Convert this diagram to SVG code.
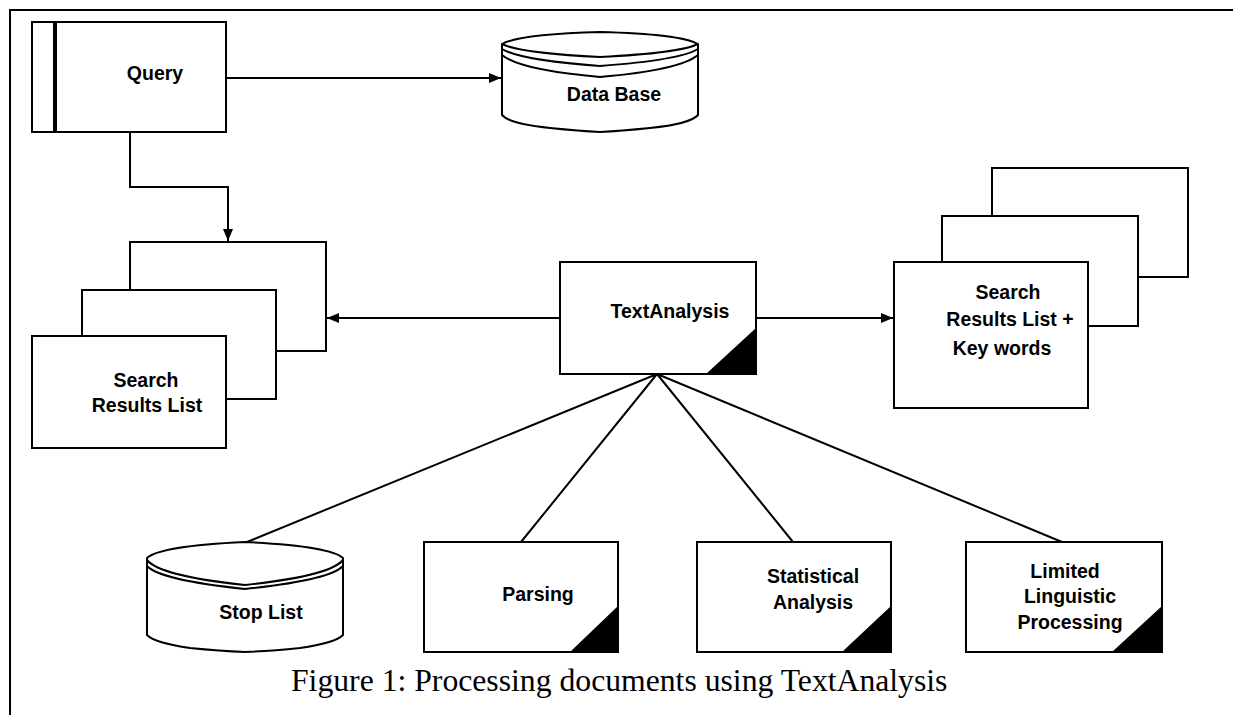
<svg xmlns="http://www.w3.org/2000/svg" width="1233" height="715" viewBox="0 0 1233 715">
<defs>
<style>
.b{fill:#fff;stroke:#000;stroke-width:2}
.l{fill:none;stroke:#000;stroke-width:2}
.t{font-family:"Liberation Sans",Arial,sans-serif;font-weight:bold;font-size:19.5px;text-anchor:middle;fill:#000}
.cap{font-family:"Liberation Serif","Times New Roman",serif;font-size:31.7px;fill:#000}
.tri{fill:#000}
</style>
<marker id="ah" viewBox="0 0 12 10" refX="12" refY="5" markerWidth="12" markerHeight="10" markerUnits="userSpaceOnUse" orient="auto">
<path d="M0,0 L12,5 L0,10 Z" fill="#000"/>
</marker>
</defs>
<rect width="1233" height="715" fill="#fff"/>
<path class="l" d="M10,715 V10 H1233"/>

<g id="connectors">
<path class="l" d="M226,78 H501" marker-end="url(#ah)"/>
<path class="l" d="M130,132 V187 H228 V241" marker-end="url(#ah)"/>
<path class="l" d="M560,318 H327" marker-end="url(#ah)"/>
<path class="l" d="M756,318 H893" marker-end="url(#ah)"/>
<path class="l" d="M657,374 L247,542 M657,374 L521,542 M657,374 L793,542 M657,374 L1062,542"/>
</g>

<g id="query">
<rect class="b" x="32" y="22" width="194" height="110"/>
<line x1="55" y1="22" x2="55" y2="132" stroke="#000" stroke-width="4"/>
<text class="t" x="155" y="80">Query</text>
</g>

<g id="database">
<path class="b" d="M502,44 Q520,34 600,32 Q680,34 698,44 V115 Q690,124 650,128 Q620,131 600,132 Q580,131 550,128 Q510,124 502,115 Z"/>
<path class="l" d="M502,44 Q520,53 600,57 Q680,53 698,44"/>
<path class="l" d="M502,49 Q520,60 600,66 Q680,60 698,49"/>
<path class="l" d="M502,55 Q520,70 600,77 Q680,70 698,55"/>
<text class="t" x="614" y="101">Data Base</text>
</g>

<g id="search-results">
<rect class="b" x="130" y="242" width="196" height="109"/>
<rect class="b" x="82" y="290" width="194" height="109"/>
<rect class="b" x="32" y="336" width="194" height="112"/>
<text class="t" x="146" y="387">Search</text>
<text class="t" x="147" y="412">Results List</text>
</g>

<g id="textanalysis">
<rect class="b" x="560" y="262" width="196" height="112"/>
<path class="tri" d="M706,374 L756,328 V374 Z"/>
<text class="t" x="670" y="318">TextAnalysis</text>
</g>

<g id="search-results-keywords">
<rect class="b" x="992" y="168" width="196" height="109"/>
<rect class="b" x="942" y="216" width="196" height="110"/>
<rect class="b" x="894" y="262" width="194" height="146"/>
<text class="t" x="1008" y="299">Search</text>
<text class="t" x="1010" y="326">Results List +</text>
<text class="t" x="1002" y="355">Key words</text>
</g>

<g id="stoplist">
<path class="b" d="M147,558 Q160,546 245,542 Q330,546 343,558 V635 Q335,643 300,648 Q270,651 245,652 Q220,651 190,648 Q155,643 147,635 Z"/>
<path class="l" d="M147,560 Q160,576 245,585 Q330,576 343,560"/>
<path class="l" d="M147,566 Q160,580 245,589 Q330,580 343,566"/>
<text class="t" x="261" y="619">Stop List</text>
</g>

<g id="parsing">
<rect class="b" x="424" y="542" width="194" height="110"/>
<path class="tri" d="M570,652 L618,606 V652 Z"/>
<text class="t" x="538" y="601">Parsing</text>
</g>

<g id="statistical">
<rect class="b" x="697" y="542" width="194" height="110"/>
<path class="tri" d="M842,652 L891,606 V652 Z"/>
<text class="t" x="813" y="583">Statistical</text>
<text class="t" x="813" y="609">Analysis</text>
</g>

<g id="linguistic">
<rect class="b" x="966" y="542" width="196" height="110"/>
<path class="tri" d="M1112,652 L1162,606 V652 Z"/>
<text class="t" x="1065" y="578">Limited</text>
<text class="t" x="1070" y="603">Linguistic</text>
<text class="t" x="1070" y="629">Processing</text>
</g>

<text class="cap" x="291" y="691">Figure 1: Processing documents using TextAnalysis</text>
</svg>
